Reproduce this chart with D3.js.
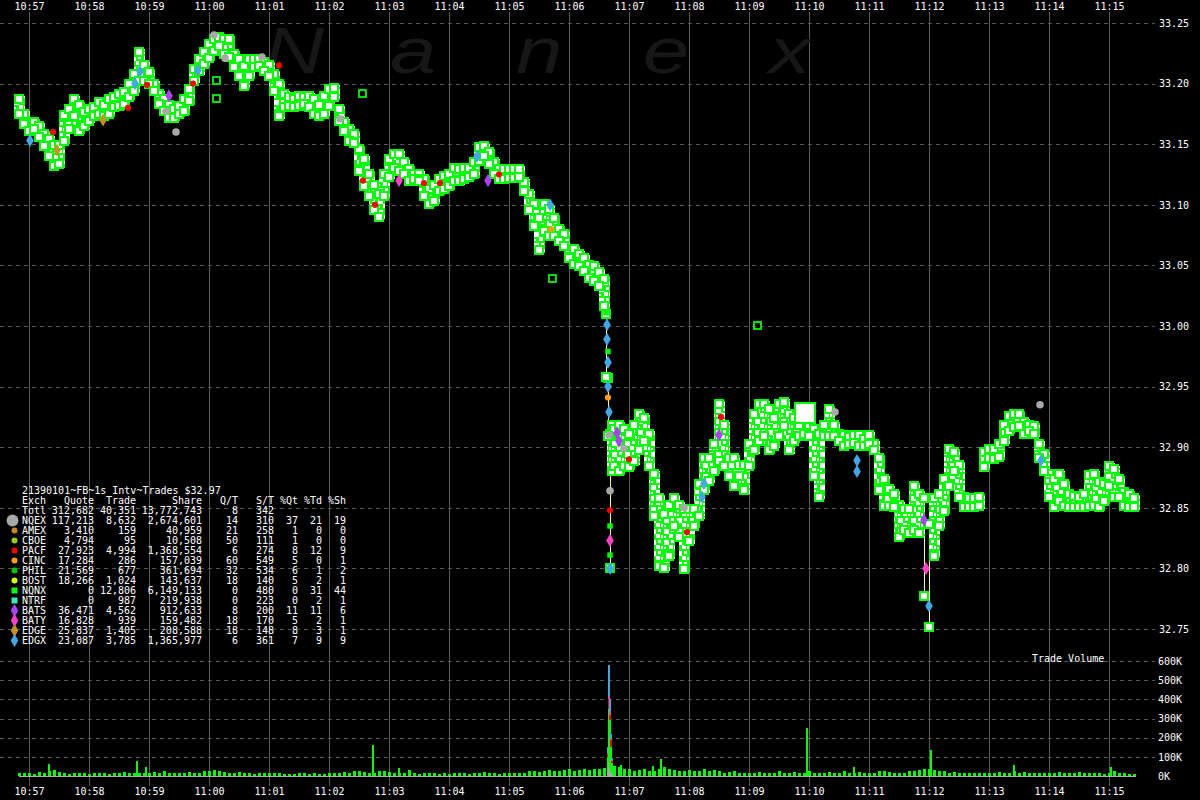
<!DOCTYPE html>
<html><head><meta charset="utf-8">
<script src="https://cdn.jsdelivr.net/npm/d3@7"></script>
<style>
html,body{margin:0;padding:0;background:#000;}
svg{display:block;}
text{font-family:"DejaVu Sans Mono",monospace;font-size:10px;fill:#fff;}
</style></head><body>
<svg id="chart" width="1200" height="800"></svg>
<script>
// ---------------- DATA ----------------
const chartTitle = "21390101~FB~1s Intv~Trades $32.97";
const timeTicks = ["10:57","10:58","10:59","11:00","11:01","11:02","11:03","11:04","11:05","11:06","11:07","11:08","11:09","11:10","11:11","11:12","11:13","11:14","11:15"];
const priceTicks = [33.25,33.20,33.15,33.10,33.05,33.00,32.95,32.90,32.85,32.80,32.75];
const volTicks = [0,100,200,300,400,500,600];

// table
const exchCodes = ["NQEX","AMEX","CBOE","PACF","CINC","PHIL","BOST","NQNX","NTRF","BATS","BATY","EDGE","EDGX"];
const exchQuote = [117213,3410,4794,27923,17284,21569,18266,0,0,36471,16828,25837,23087];
const exchTrade = [8632,159,95,4994,286,677,1024,12806,987,4562,939,1405,3785];
const exchShare = [2674601,40959,10508,1368554,157039,361694,143637,6149133,219938,912633,159482,208588,1365977];
const exchQT = [14,21,50,6,60,32,18,0,0,8,18,18,6];
const exchST = [310,258,111,274,549,534,140,480,223,200,170,148,361];
const exchPctQt = [37,1,1,8,5,6,5,0,0,11,5,8,7];
const exchPctTd = [21,0,0,12,0,1,2,31,2,11,2,3,9];
const exchPctSh = [19,0,0,9,1,2,1,44,1,6,1,1,9];
const totalRow = {quote:312682, trade:40351, share:13772743, qt:8, st:342};

// price samples: seconds after 10:57:00, high and low trade price in the interval
const sampleSec = [-10,-5,0,5,10,15,20,25,30,35,40,45,50,55,60,65,70,75,80,85,90,95,100,105,110,115,120,125,130,135,140,145,150,155,160,165,170,175,180,185,190,195,200,205,210,215,220,225,230,235,240,245,250,255,260,265,270,275,280,285,290,295,300,305,310,315,320,325,330,335,340,345,350,355,360,365,370,375,380,385,390,395,400,405,410,415,420,425,430,435,440,445,450,455,460,465,470,475,480,485,490,495,500,505,510,515,520,525,530,535,540,545,550,555,560,565,570,575,577,579,581,583,585,590,595,600,605,610,615,620,625,630,635,640,645,650,655,660,665,670,675,680,685,690,695,700,705,710,715,720,725,730,735,740,745,750,755,760,765,770,775,780,785,790,795,800,805,810,815,820,825,830,835,840,845,850,855,860,865,870,875,880,885,890,895,900,905,910,915,920,925,930,935,940,945,950,955,960,965,970,975,980,985,990,995,1000,1005,1010,1015,1020,1025,1030,1035,1040,1045,1050,1055,1060,1065,1070,1075,1080,1085,1090,1095,1100,1105];
const sampleHigh = [33.191,33.178,33.172,33.172,33.168,33.162,33.158,33.153,33.153,33.177,33.182,33.191,33.186,33.180,33.182,33.184,33.188,33.186,33.191,33.192,33.195,33.196,33.203,33.211,33.229,33.219,33.213,33.203,33.195,33.191,33.186,33.182,33.185,33.191,33.199,33.215,33.224,33.229,33.236,33.240,33.242,33.240,33.240,33.228,33.224,33.218,33.224,33.224,33.224,33.221,33.219,33.211,33.203,33.195,33.192,33.191,33.193,33.192,33.193,33.191,33.186,33.193,33.199,33.200,33.182,33.172,33.166,33.162,33.149,33.141,33.129,33.120,33.112,33.129,33.141,33.145,33.145,33.139,33.133,33.129,33.129,33.125,33.116,33.120,33.125,33.127,33.129,33.134,33.133,33.134,33.134,33.139,33.151,33.152,33.147,33.139,33.133,33.133,33.133,33.133,33.133,33.122,33.112,33.104,33.092,33.104,33.100,33.092,33.083,33.079,33.067,33.067,33.063,33.059,33.054,33.053,33.048,33.042,33.013,32.960,32.914,32.922,32.918,32.922,32.918,32.914,32.922,32.931,32.927,32.914,32.881,32.861,32.848,32.856,32.861,32.856,32.852,32.852,32.852,32.873,32.894,32.894,32.906,32.939,32.922,32.894,32.894,32.889,32.889,32.906,32.931,32.939,32.939,32.935,32.927,32.939,32.941,32.931,32.927,32.922,32.929,32.922,32.918,32.914,32.922,32.935,32.922,32.914,32.913,32.912,32.913,32.913,32.910,32.913,32.906,32.894,32.877,32.869,32.865,32.856,32.852,32.852,32.871,32.865,32.861,32.840,32.861,32.865,32.877,32.902,32.899,32.889,32.862,32.861,32.861,32.862,32.899,32.902,32.902,32.906,32.922,32.929,32.931,32.931,32.924,32.922,32.921,32.906,32.898,32.881,32.877,32.881,32.873,32.865,32.863,32.862,32.865,32.880,32.881,32.875,32.873,32.888,32.885,32.877,32.866,32.865,32.861];
const sampleLow = [33.172,33.163,33.158,33.159,33.153,33.145,33.137,33.129,33.130,33.149,33.159,33.170,33.158,33.162,33.166,33.170,33.172,33.170,33.172,33.177,33.178,33.180,33.186,33.191,33.199,33.199,33.196,33.191,33.180,33.174,33.168,33.168,33.172,33.174,33.182,33.199,33.207,33.213,33.218,33.224,33.228,33.221,33.219,33.210,33.203,33.195,33.203,33.210,33.211,33.207,33.203,33.191,33.170,33.177,33.178,33.177,33.178,33.180,33.177,33.172,33.170,33.172,33.178,33.186,33.166,33.158,33.149,33.148,33.125,33.112,33.104,33.092,33.087,33.104,33.120,33.127,33.125,33.122,33.116,33.118,33.116,33.104,33.097,33.100,33.108,33.110,33.112,33.116,33.116,33.118,33.120,33.122,33.133,33.137,33.130,33.122,33.118,33.118,33.119,33.119,33.120,33.108,33.092,33.079,33.059,33.075,33.071,33.071,33.067,33.063,33.053,33.048,33.046,33.042,33.036,33.034,33.030,33.013,32.955,32.906,32.797,32.877,32.881,32.877,32.881,32.880,32.885,32.894,32.902,32.881,32.840,32.799,32.797,32.807,32.832,32.823,32.796,32.819,32.832,32.840,32.861,32.869,32.877,32.885,32.881,32.873,32.865,32.873,32.861,32.881,32.894,32.902,32.906,32.894,32.898,32.906,32.914,32.894,32.902,32.906,32.908,32.906,32.873,32.856,32.906,32.906,32.906,32.902,32.898,32.899,32.900,32.898,32.898,32.899,32.894,32.861,32.848,32.848,32.847,32.823,32.828,32.826,32.828,32.826,32.774,32.748,32.807,32.832,32.844,32.865,32.877,32.856,32.847,32.847,32.847,32.848,32.880,32.888,32.887,32.889,32.902,32.910,32.913,32.914,32.908,32.910,32.908,32.888,32.877,32.856,32.847,32.852,32.848,32.847,32.847,32.847,32.847,32.848,32.848,32.847,32.852,32.865,32.856,32.856,32.848,32.847,32.847];
// intervals where prints were sparse (drawn as range line + individual prints)
const sparseSec = [577,579,581,895,900];

// individual trades on other exchanges / notable prints
const oddSec = [577,578,578,579,579,579,579,580,580,581,581,581,581,581,581,590,595,588,600,311,196,137,147,185,111,106,169,28,1,164,118,99,334,346,395,411,74,140,448,521,522,370,828,828,673,675,900,895,897,658,655,690,692,806,1011,1012,24,233,250,459,470];
const oddPrice = [33.011,33.001,32.989,32.979,32.970,32.950,32.941,32.929,32.910,32.864,32.848,32.835,32.823,32.811,32.800,32.905,32.899,32.912,32.890,33.171,33.221,33.177,33.160,33.240,33.210,33.200,33.211,33.145,33.153,33.200,33.199,33.180,33.120,33.100,33.118,33.118,33.170,33.190,33.140,33.100,33.080,33.120,32.889,32.880,32.859,32.870,32.769,32.840,32.800,32.830,32.850,32.910,32.925,32.929,32.935,32.889,33.160,33.222,33.215,33.120,33.125];
const oddExch = ["NQNX","EDGX","EDGX","NQNX","EDGX","EDGX","CINC","EDGX","NQEX","NQEX","PACF","NQNX","BATY","NQNX","EDGX","BATS","NQEX","BATS","PACF","NQEX","NQEX","NQEX","NQEX","NQEX","EDGX","EDGX","EDGX","EDGE","EDGX","PACF","PACF","PACF","PACF","PACF","PACF","PACF","EDGE","BATS","EDGX","EDGX","CINC","BATY","EDGX","EDGX","EDGX","EDGX","EDGX","BATS","BATY","PACF","NQEX","BATS","PACF","NQEX","NQEX","EDGX","PACF","NQEX","PACF","BATS","PACF"];
// hollow (non-regular) NQNX prints
const hollowSec = [187,187,333,523,728];
const hollowPrice = [33.203,33.188,33.192,33.040,33.001];
// block print
const blockSec = [776];
const blockPrice = [32.928];

// trade volume, thousands of shares, 5-second buckets from 10:56:50 to 11:15:25
const volSec = [-10,-5,
  0,5,10,15,20,25,30,35,40,45,50,55,
  60,65,70,75,80,85,90,95,100,105,110,115,
  120,125,130,135,140,145,150,155,160,165,170,175,
  180,185,190,195,200,205,210,215,220,225,230,235,
  240,245,250,255,260,265,270,275,280,285,290,295,
  300,305,310,315,320,325,330,335,340,345,350,355,
  360,365,370,375,380,385,390,395,400,405,410,415,
  420,425,430,435,440,445,450,455,460,465,470,475,
  480,485,490,495,500,505,510,515,520,525,530,535,
  540,545,550,555,560,565,570,575,580,585,590,595,
  600,605,610,615,620,625,630,635,640,645,650,655,
  660,665,670,675,680,685,690,695,700,705,710,715,
  720,725,730,735,740,745,750,755,760,765,770,775,
  780,785,790,795,800,805,810,815,820,825,830,835,
  840,845,850,855,860,865,870,875,880,885,890,895,
  900,905,910,915,920,925,930,935,940,945,950,955,
  960,965,970,975,980,985,990,995,1000,1005,1010,1015,
  1020,1025,1030,1035,1040,1045,1050,1055,1060,1065,1070,1075,
  1080,1085,1090,1095,1100,1105];
const volK = [14,18,
  16,12,22,18,25,30,20,15,12,18,16,14,
  12,16,18,14,10,15,18,22,16,18,14,17,
  16,22,18,28,18,15,14,18,22,16,18,25,
  28,30,24,22,18,16,22,18,14,12,16,18,
  14,16,18,12,10,12,16,14,11,16,12,10,
  16,18,14,22,18,24,28,22,16,18,25,28,
  22,18,16,18,30,16,12,14,16,18,12,16,
  12,16,18,14,12,16,18,22,16,14,12,16,
  16,18,14,18,24,28,22,25,30,28,24,30,
  34,28,30,36,30,38,34,42,0,50,45,38,
  34,28,30,38,24,28,34,45,38,30,28,24,
  30,28,24,34,28,30,24,18,22,28,18,16,
  18,16,22,18,16,18,24,16,18,22,16,18,
  24,18,16,18,22,16,18,24,16,18,22,18,
  16,18,24,28,22,18,16,18,24,28,30,34,
  38,30,28,24,18,22,18,16,18,16,18,16,
  18,16,22,18,16,24,18,22,16,18,16,18,
  16,18,22,16,18,16,22,18,16,18,16,12,
  18,28,16,18,12,10];
// single-second volume spikes
const spikeSec = [19,107,116,343,369,591,623,631,777,824,901,984,1081];
const spikeK = [65,80,45,160,40,55,50,90,250,45,135,55,45];
// composition of the 11:06:40 burst, per second (thousands of shares)
const burstSec = [578,579,580,581,582];
const burstNQEX = [20,70,40,20,10];
const burstNQNX = [80,280,250,130,60];
const burstPACF = [15,50,30,40,10];
const burstBATY = [5,20,20,10,5];
const burstEDGX = [30,160,60,20,10];

// ---------------- STYLE ----------------
const exchColor = {NQEX:"#a8a8a8",AMEX:"#c8861e",CBOE:"#99cc00",PACF:"#ff0000",CINC:"#ffa000",PHIL:"#00c800",BOST:"#ccff00",NQNX:"#00ff00",NTRF:"#40e8b8",BATS:"#b040ff",BATY:"#ff40c8",EDGE:"#c89020",EDGX:"#40a8e8"};
const exchShape = {NQEX:"c",AMEX:"c",CBOE:"c",PACF:"c",CINC:"c",PHIL:"c",BOST:"c",NQNX:"s",NTRF:"s",BATS:"d",BATY:"d",EDGE:"d",EDGX:"d"};

// ---------------- SCALES ----------------
const parseT = d3.timeParse("%H:%M:%S");
const t0 = parseT("10:57:00");
const at = s => new Date(t0.getTime() + s * 1000);
const x = d3.scaleTime().domain([t0, at(1080)]).range([29, 1109]);
const y = d3.scaleLinear().domain([32.75, 33.25]).range([629, 23]);
const yv = d3.scaleLinear().domain([0, 600]).range([776, 661]);
const X = s => Math.round(x(at(s)));

const svg = d3.select("#chart");
svg.append("rect").attr("width",1200).attr("height",800).attr("fill","#000");

// mosaic texture for dense clusters of overlapping NQNX prints
const defs = svg.append("defs");
const pat = defs.append("pattern").attr("id","mosaic").attr("patternUnits","userSpaceOnUse")
  .attr("width",13).attr("height",11).attr("shape-rendering","crispEdges");
pat.append("rect").attr("width",13).attr("height",11).attr("fill","#00ff00");
[[1,1,5,5],[8,1,3,3],[6,6,4,4],[1,8,2,2],[11,7,2,3]].forEach(([a,b,w,h]) =>
  pat.append("rect").attr("x",a).attr("y",b).attr("width",w).attr("height",h).attr("fill","#fff"));

// ---------------- GRID ----------------
const grid = svg.append("g").attr("shape-rendering","crispEdges");
const tickDates = timeTicks.map(t => parseT(t + ":00"));
grid.selectAll("line.v").data(tickDates).join("line")
  .attr("x1", d => Math.round(x(d)) + 0.5).attr("x2", d => Math.round(x(d)) + 0.5)
  .attr("y1", 12).attr("y2", 786).attr("stroke", "#5c5c5c");
grid.selectAll("line.hp").data(priceTicks).join("line")
  .attr("x1", 0).attr("x2", 1155)
  .attr("y1", d => Math.round(y(d)) + 0.5).attr("y2", d => Math.round(y(d)) + 0.5)
  .attr("stroke", "#555").attr("stroke-dasharray", "4,4");
grid.selectAll("line.hv").data(volTicks.filter(d => d > 0)).join("line")
  .attr("x1", 0).attr("x2", 1155)
  .attr("y1", d => Math.round(yv(d)) + 0.5).attr("y2", d => Math.round(yv(d)) + 0.5)
  .attr("stroke", "#555").attr("stroke-dasharray", "4,4");

// watermark
[["N",264],["a",390],["n",516],["e",643],["x",769]].forEach(([ch,px]) => {
  svg.append("text").attr("transform", `translate(${px},73) scale(1.3,1)`).text(ch)
    .style("font-family","Liberation Sans, sans-serif").style("font-size","64px")
    .style("font-style","italic").style("fill","#171717");
});

// ---------------- AXES ----------------
const styleAxis = g => { g.select(".domain").remove();
  g.selectAll("text").style("font-family","DejaVu Sans Mono").style("font-size","10px").attr("fill","#fff"); };
svg.append("g").attr("transform","translate(0,10)")
  .call(d3.axisTop(x).tickValues(tickDates).tickFormat(d3.timeFormat("%H:%M")).tickSize(0).tickPadding(0)).call(styleAxis);
svg.append("g").attr("transform","translate(0,788)")
  .call(d3.axisBottom(x).tickValues(tickDates).tickFormat(d3.timeFormat("%H:%M")).tickSize(0).tickPadding(0)).call(styleAxis);
svg.append("g").attr("transform","translate(1155,0)")
  .call(d3.axisRight(y).tickValues(priceTicks).tickFormat(d3.format(".2f")).tickSize(0).tickPadding(4)).call(styleAxis);
svg.append("g").attr("transform","translate(1155,0)")
  .call(d3.axisRight(yv).tickValues(volTicks).tickFormat(d => d + "K").tickSize(0).tickPadding(3)).call(styleAxis);
svg.append("text").attr("x",1032).attr("y",662).text("Trade Volume");

// ---------------- VOLUME ----------------
const vol = svg.append("g").attr("shape-rendering","crispEdges");
vol.append("line").attr("x1",19).attr("x2",1136).attr("y1",776.5).attr("y2",776.5).attr("stroke","#b0b0b0");
const nv = Math.min(volSec.length, volK.length);
vol.selectAll("rect.v").data(d3.range(nv)).join("rect")
  .attr("x", i => X(volSec[i]) - 1).attr("width", 3)
  .attr("y", i => yv(volK[i])).attr("height", i => yv(0) - yv(volK[i]))
  .attr("fill", "#00ff00");
vol.selectAll("rect.s").data(d3.range(spikeSec.length)).join("rect")
  .attr("x", i => X(spikeSec[i])).attr("width", 2)
  .attr("y", i => yv(spikeK[i])).attr("height", i => yv(0) - yv(spikeK[i]))
  .attr("fill", "#00ff00");
const burstParts = [["NQEX",burstNQEX],["NQNX",burstNQNX],["PACF",burstPACF],["BATY",burstBATY],["EDGX",burstEDGX]];
burstSec.forEach((s, i) => {
  let acc = 0;
  burstParts.forEach(([ex, arr]) => {
    vol.append("rect").attr("x", X(s)).attr("width", 2)
      .attr("y", yv(acc + arr[i])).attr("height", yv(acc) - yv(acc + arr[i]))
      .attr("fill", exchColor[ex]);
    acc += arr[i];
  });
});

// ---------------- PRICE CLOUD ----------------
const n = Math.min(sampleSec.length, sampleHigh.length, sampleLow.length);
const idx = d3.range(n);
const sparse = i => sparseSec.includes(sampleSec[i]);
const cloud = svg.append("g").attr("shape-rendering","crispEdges");
cloud.selectAll("line.r").data(idx).join("line")
  .attr("x1", i => X(sampleSec[i]) + 0.5).attr("x2", i => X(sampleSec[i]) + 0.5)
  .attr("y1", i => y(sampleHigh[i])).attr("y2", i => y(sampleLow[i]))
  .attr("stroke", "#ffff99");
cloud.selectAll("rect.b").data(idx.filter(i => !sparse(i))).join("rect")
  .attr("x", i => X(sampleSec[i]) - 5).attr("width", 11)
  .attr("y", i => Math.round(y(sampleHigh[i])) + 1)
  .attr("height", i => Math.max(5, Math.round(y(sampleLow[i]) - y(sampleHigh[i])) - 2))
  .attr("fill", "url(#mosaic)");
const sq = (sel, top) => sel
  .attr("x", i => X(sampleSec[i]) - 4)
  .attr("y", i => top ? Math.round(y(sampleHigh[i])) : Math.round(y(sampleLow[i])) - 8)
  .attr("width", 8).attr("height", 8)
  .attr("fill", "#fff").attr("stroke", "#00ff00").attr("stroke-width", 2);
cloud.selectAll("rect.hi").data(idx).join("rect").call(sq, true);
cloud.selectAll("rect.lo").data(idx).join("rect").call(sq, false);

cloud.selectAll("rect.h").data(d3.range(hollowSec.length)).join("rect")
  .attr("x", i => X(hollowSec[i]) - 3).attr("y", i => Math.round(y(hollowPrice[i])) - 3)
  .attr("width", 7).attr("height", 7).attr("fill", "none").attr("stroke", "#00e000").attr("stroke-width", 1.5);
cloud.selectAll("rect.k").data(d3.range(blockSec.length)).join("rect")
  .attr("x", i => X(blockSec[i]) - 10).attr("y", i => Math.round(y(blockPrice[i])) - 10)
  .attr("width", 20).attr("height", 20).attr("fill", "#fff").attr("stroke", "#00ff00").attr("stroke-width", 2);

const symFor = ex => exchShape[ex] === "c" ? d3.symbolCircle : exchShape[ex] === "s" ? d3.symbolSquare : d3.symbolDiamond;
const sizeFor = ex => ex === "NQEX" ? 45 : exchShape[ex] === "d" ? 50 : 30;
svg.append("g").selectAll("path").data(d3.range(Math.min(oddSec.length, oddPrice.length, oddExch.length))).join("path")
  .attr("transform", i => `translate(${X(oddSec[i])},${y(oddPrice[i])})`)
  .attr("d", i => d3.symbol().type(symFor(oddExch[i])).size(sizeFor(oddExch[i]))())
  .attr("fill", i => exchColor[oddExch[i]]);

// ---------------- TABLE ----------------
const tbl = svg.append("g");
const fmt = d3.format(",");
tbl.append("text").attr("x",22).attr("y",494).text(chartTitle);
const cols = [94,136,202,238,274,298,322,346];
const header = ["Quote","Trade","Share","Q/T","S/T","%Qt","%Td","%Sh"];
tbl.append("text").attr("x",22).attr("y",504).text("Exch");
header.forEach((h,j) => tbl.append("text").attr("x",cols[j]).attr("y",504).attr("text-anchor","end").text(h));
tbl.append("text").attr("x",22).attr("y",514).text("Totl");
[fmt(totalRow.quote),fmt(totalRow.trade),fmt(totalRow.share),totalRow.qt,totalRow.st].forEach((v,j) =>
  tbl.append("text").attr("x",cols[j]).attr("y",514).attr("text-anchor","end").text(v));
exchCodes.forEach((ex,i) => {
  const by = 524 + 10*i;
  tbl.append("text").attr("x",22).attr("y",by).text(ex);
  const vals = [fmt(exchQuote[i]),fmt(exchTrade[i]),fmt(exchShare[i]),exchQT[i],exchST[i],exchPctQt[i],exchPctTd[i],exchPctSh[i]];
  vals.forEach((v,j) => tbl.append("text").attr("x",cols[j]).attr("y",by).attr("text-anchor","end").text(v));
  const cy = by - 3.5;
  const size = ex === "NQEX" ? 110 : exchShape[ex] === "d" ? 50 : exchShape[ex] === "s" ? 36 : 28;
  const cx = ex === "NQEX" ? 12.5 : 14.5;
  tbl.append("path").attr("transform",`translate(${cx},${cy})`)
    .attr("d", d3.symbol().type(symFor(ex)).size(size)()).attr("fill", exchColor[ex]);
});
</script>
</body></html>
